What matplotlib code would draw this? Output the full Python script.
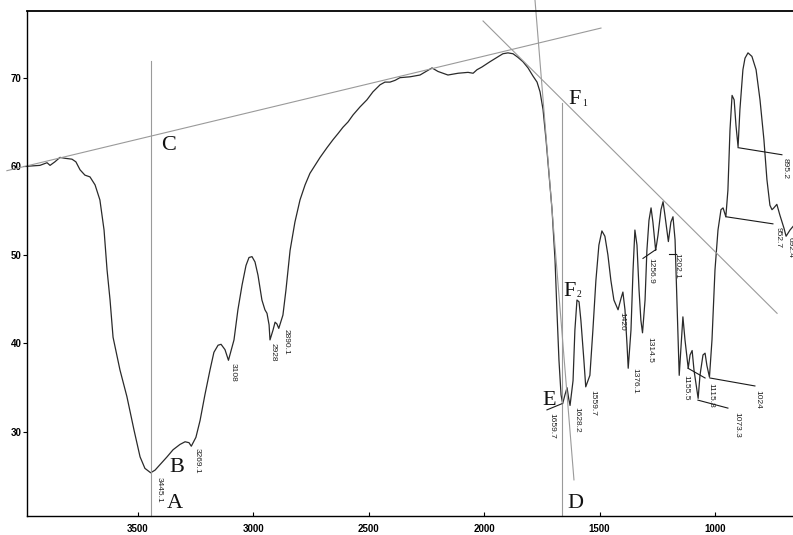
import matplotlib
matplotlib.use("Agg")
import matplotlib.pyplot as plt

# IR spectrum (wavenumber cm-1, transmittance %)
wn = [3981, 3925, 3894, 3881, 3860, 3838, 3816, 3786, 3769, 3751, 3730, 3708, 3686,
      3665, 3647, 3634, 3621, 3608, 3578, 3548, 3517, 3491, 3470, 3445, 3426, 3405,
      3374, 3348, 3318, 3296, 3279, 3269, 3249, 3231, 3210, 3188, 3171, 3153, 3140,
      3123, 3108, 3084, 3067, 3049, 3032, 3019, 3006, 2993, 2980, 2963, 2950, 2941,
      2932, 2928, 2915, 2906, 2898, 2890, 2872, 2859, 2850, 2841, 2820, 2798, 2776,
      2755, 2733, 2711, 2681, 2655, 2633, 2612, 2590, 2568, 2538, 2508, 2482, 2451,
      2430, 2408, 2386, 2365, 2321, 2278, 2252, 2226, 2200, 2157, 2113, 2070, 2048,
      2031, 2010, 1975, 1944, 1919, 1897, 1875, 1854, 1832, 1810, 1789, 1771, 1758,
      1745, 1732, 1719, 1706, 1693, 1685, 1676, 1667, 1660, 1650, 1641, 1634, 1628,
      1615, 1607, 1598, 1589, 1581, 1568, 1560, 1542, 1529, 1516, 1503, 1490, 1477,
      1464, 1451, 1438, 1420, 1407, 1399, 1390, 1381, 1376, 1364, 1355, 1347, 1338,
      1329, 1321, 1314, 1303, 1295, 1286, 1277, 1269, 1257, 1247, 1234, 1225, 1217,
      1202, 1191, 1182, 1173, 1165, 1155, 1147, 1139, 1130, 1116, 1108, 1099, 1091,
      1073, 1065, 1052, 1043, 1035, 1024, 1013, 1000, 987, 974, 965, 953, 944, 935,
      926, 917, 909, 900, 892, 879, 870, 857, 840, 822, 805, 788, 775, 762, 753, 745,
      732, 719, 701, 692, 675, 662]
tr = [60.0, 60.1, 60.4, 60.1, 60.5, 61.0, 60.9, 60.8, 60.5, 59.6, 59.0, 58.8, 57.9,
      56.2, 52.8, 48.3, 44.9, 40.7, 37.0, 34.0, 30.2, 27.2, 25.9, 25.4, 25.7, 26.3,
      27.2, 28.0, 28.6, 28.9, 28.8, 28.4, 29.4, 31.3, 34.2, 37.0, 39.0, 39.8, 39.9,
      39.3, 38.1, 40.4, 43.8, 46.6, 48.8, 49.7, 49.8, 49.2, 47.7, 44.9, 43.8, 43.4,
      42.1, 40.4, 41.5, 42.4, 42.2, 41.7, 43.2, 46.0, 48.3, 50.5, 53.7, 56.2, 57.9,
      59.2, 60.1, 61.0, 62.1, 63.0, 63.7, 64.4, 65.0, 65.8, 66.7, 67.5, 68.4, 69.2,
      69.5, 69.5, 69.7, 70.0, 70.1, 70.3, 70.7, 71.1, 70.7, 70.3, 70.5, 70.6, 70.5,
      70.9, 71.2, 71.8, 72.3, 72.7, 72.8, 72.7, 72.3, 71.8, 71.1, 70.2, 69.5, 68.4,
      66.4, 63.0, 59.0, 55.1, 49.4, 43.8, 38.1, 34.2, 33.2, 34.2, 35.0, 33.8, 33.0,
      35.8, 41.5, 44.9, 44.7, 42.6, 38.1, 35.1, 36.4, 41.5, 47.1, 51.1, 52.7, 52.1,
      50.0, 47.1, 44.9, 43.8, 45.1, 45.8, 43.8, 39.8, 37.2, 41.5, 48.3, 52.8, 51.1,
      46.0, 42.6, 41.2, 44.9, 50.5, 53.9, 55.3, 53.7, 50.5, 52.2, 55.1, 56.0, 54.5,
      51.5, 53.7, 54.3, 51.7, 44.9, 36.4, 39.8, 43.0, 40.4, 37.2, 38.7, 39.2, 37.0,
      33.8, 36.4, 38.7, 38.9, 37.5, 36.2, 40.4, 48.3, 52.8, 55.1, 55.3, 54.3, 57.3, 64.1,
      68.0, 67.5, 64.6, 62.2, 66.4, 70.9, 72.2, 72.8, 72.4, 70.9, 67.5, 63.0, 58.5,
      55.6, 55.1, 55.3, 55.7, 54.5, 53.0, 52.1, 52.8, 53.2]

# peak labels: text, x, top y
peak_text = ["3445.1", "3269.1", "3108", "2928", "2890.1", "1659.7", "1628.2",
             "1559.7", "1420", "1376.1", "1314.5", "1256.9", "1202.1", "1155.5",
             "1115.8", "1073.3", "1024", "952.7", "895.2", "692.4"]
peak_x = [3409, 3244, 3088, 2915, 2859, 1706, 1598, 1529, 1403, 1347, 1282, 1277,
          1167, 1125, 1017, 905, 814, 727, 697, 676]
peak_y = [24.9, 28.2, 37.8, 40.0, 41.6, 32.1, 32.8, 34.7, 43.6, 37.2, 40.7, 49.6,
          50.2, 36.4, 35.5, 32.3, 34.7, 53.1, 60.9, 52.0]

# leader lines from the minima to the labels
leaders = [((1663, 33.2), (1728, 32.5)), ((1312, 49.6), (1256, 50.6)),
           ((1199, 50.1), (1169, 50.1)), ((1117, 37.2), (1043, 36.1)),
           ((1074, 33.6), (944, 32.7)), ((1022, 36.1), (827, 35.2)),
           ((952, 54.3), (749, 53.5)), ((900, 62.1), (710, 61.3))]

# construction lines drawn on the scan
guide_lines = [((3445, 3445), (71.9, 20.5)), ((4068, 1494), (59.5, 75.6)),
               ((2005, 731), (76.4, 43.4)), ((1780, 1611), (78.8, 24.6)),
               ((1663, 1663), (67.1, 20.5))]

letters = ["C", "A", "B", "D", "E", "F", "F"]
letter_x = [3366, 3340, 3331, 1604, 1717, 1608, 1630]
letter_y = [62.3, 21.9, 26.0, 21.9, 33.6, 67.5, 45.9]
subs = ["1", "2"]
sub_x = [1565, 1591]
sub_y = [67.1, 45.5]

fig = plt.figure(figsize=(7.93, 5.35), dpi=100)
ax = fig.add_axes([0.034, 0.0355, 0.966, 0.944])

ax.plot(wn, tr, color="#2a2a2a", lw=0.9)

for xs, ys in guide_lines:
    ax.plot(xs, ys, color="#9a9a9a", lw=0.8, clip_on=False)

for (x0, y0), (x1, y1) in leaders:
    ax.plot([x0, x1], [y0, y1], color="#1a1a1a", lw=0.8)

for t, x, y in zip(peak_text, peak_x, peak_y):
    ax.text(x, y, t, rotation=-90, ha="center", va="top", fontsize=6,
            family="Liberation Sans", color="#222222")

for t, x, y in zip(letters, letter_x, letter_y):
    ax.text(x, y, t, ha="center", va="center", fontsize=16,
            family="Liberation Serif", color="#111111")
for t, x, y in zip(subs, sub_x, sub_y):
    ax.text(x, y, t, ha="center", va="center", fontsize=7,
            family="Liberation Serif", color="#111111")

ax.set_xlim(3981, 662)
ax.set_ylim(20.52, 77.53)
ax.set_xticks([3500, 3000, 2500, 2000, 1500, 1000])
ax.set_yticks([30, 40, 50, 60, 70])
ax.spines["right"].set_visible(False)
ax.spines["top"].set_linewidth(1.3)
ax.spines["left"].set_linewidth(1.0)
ax.spines["bottom"].set_linewidth(1.0)
ax.tick_params(axis="x", direction="in", length=3, pad=6)
ax.tick_params(axis="y", direction="out", length=3, pad=1)
for lab in ax.get_xticklabels() + ax.get_yticklabels():
    lab.set_fontweight("bold")
    lab.set_fontsize(7)
    lab.set_family("Liberation Sans")

fig.savefig("out.png", dpi=100)
